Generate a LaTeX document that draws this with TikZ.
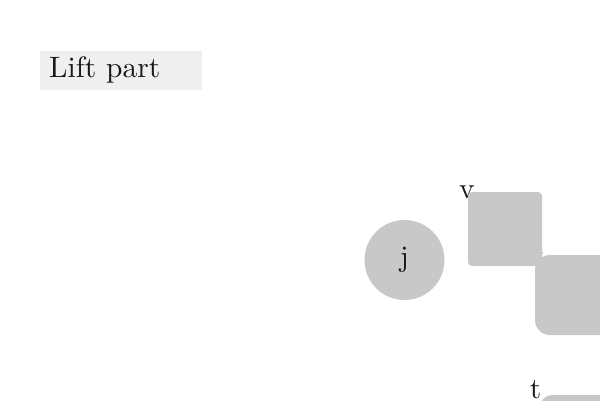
\documentclass[tikz,border=0pt]{standalone}
\newcommand{\bigtxt}[1]{\scalebox{2.95}{\fontsize{10}{12}\selectfont #1}}
\begin{document}
\begin{tikzpicture}[x=1pt,y=-1pt,
  blob/.style={fill=shapegray, draw=none, inner sep=0pt, text=black!90},
  lbl/.style={inner sep=0pt, text=black!90}]
\definecolor{shapegray}{HTML}{C8C8C8}
\definecolor{titlebg}{HTML}{EFEFEF}
\useasboundingbox (0,0) rectangle (600,400);
\node[fill=titlebg, anchor=north west, minimum width=162, minimum height=39,
      text width=144, inner xsep=9, inner ysep=0, align=left, text=black!90] (title) at (40,50.5) {\bigtxt{Lift part}};
\node[blob, circle, minimum size=80] (j) at (404.5,260) {\bigtxt{j}};
\node[lbl] (lv) at (467,192.5) {\bigtxt{v}};
\node[lbl] (lt2) at (539,257) {\bigtxt{t}};
\node[lbl] (lt3) at (535.5,390) {\bigtxt{t}};
\node[blob, rounded corners=4, minimum size=74] (b1) at (505,229) {};
\node[blob, rounded corners=15, minimum size=80] (b2) at (575,295) {};
\node[blob, rounded corners=12, minimum size=80] (b3) at (580,435) {};
\end{tikzpicture}
\end{document}
